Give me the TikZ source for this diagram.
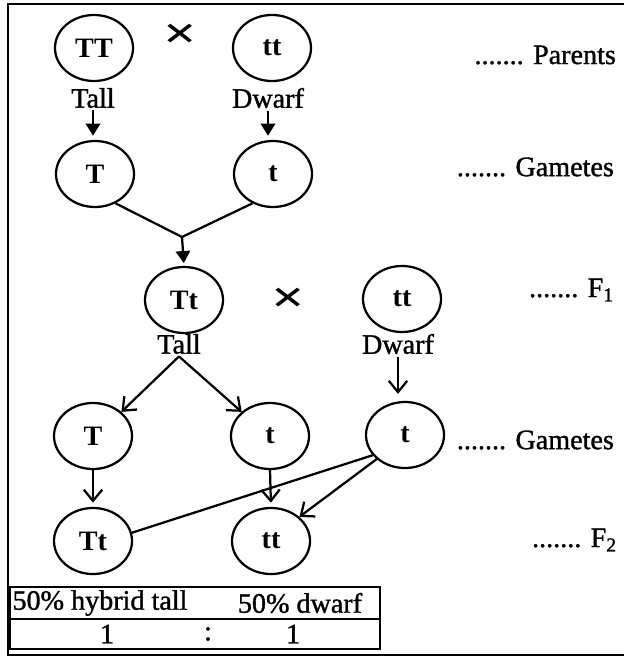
\documentclass[tikz,border=0pt]{standalone}
\usepackage{fontspec}
\setmainfont{Liberation Serif}
\newfontfamily\inkfont{Liberation Serif}[FakeBold=1.2]
\usetikzlibrary{arrows.meta, shapes.geometric}
\tikzset{
  every picture/.style={line width=1.6pt},
  gene/.style={draw, ellipse, minimum width=1.95cm, minimum height=1.65cm, inner sep=0pt, font=\fontsize{20}{24}\selectfont\bfseries},
  trait/.style={font=\fontsize{20}{24}\selectfont\inkfont, inner sep=1pt},
  stage/.style={font=\fontsize{20}{24}\selectfont\inkfont, anchor=east, inner sep=0pt},
  cross/.style={font=\fontsize{20}{24}\selectfont\bfseries},
  cell/.style={font=\fontsize{20}{24}\selectfont\inkfont, inner sep=0pt},
  solid tip/.style={-{Triangle[length=3mm, width=3.6mm]}},
  barb tip/.style={-{Straight Barb[length=2.8mm, width=4.6mm]}},
}

\begin{document}
\begin{tikzpicture}[x=0.025cm, y=-0.025cm]
  \useasboundingbox (0,0) rectangle (624,657);
  % frame, runs off on the right
  \draw[line width=1.8pt] (640,4) -- (8,4) -- (8,655) -- (640,655);

  % parents
  \node[gene] (TT) at (94,48) {TT};
  \node[cross] (x1) at (180,36) {\scalebox{2.1}[1.6]{×}};
  \node[gene] (tt) at (272,48) {tt};
  \node[trait] (tall1) at (93,98) {Tall};
  \node[trait] (dwarf1) at (268,98) {Dwarf};
  % their gametes
  \node[gene] (T1) at (95,174) {T};
  \node[gene] (t1) at (273,174) {t};
  \coordinate (join) at (182,237);
  % F1 and the dwarf parent
  \node[gene] (Tt1) at (184,300) {Tt};
  \node[cross] (x2) at (288,300) {\scalebox{2.1}[1.6]{×}};
  \node[gene] (tt1) at (402,299) {tt};
  \node[trait] (tall2) at (179,344) {Tall};
  \node[trait] (dwarf2) at (398,344) {Dwarf};
  % gametes of the back cross
  \node[gene] (T2) at (93,436) {T};
  \node[gene] (t2) at (270,436) {t};
  \node[gene] (t3) at (405,435) {t};
  % F2
  \node[gene] (Tt2) at (93,541) {Tt};
  \node[gene] (tt2) at (271,541) {tt};

  % generation names
  \node[stage] (par) at (617,55) {....... Parents};
  \node[stage] (gam1) at (615,167) {....... Gametes};
  \node[stage] (f1) at (615,290) {....... F\textsubscript{1}};
  \node[stage] (gam2) at (615,440) {....... Gametes};
  \node[stage] (f2) at (618,540) {....... F\textsubscript{2}};

  % arrows
  \draw[solid tip, shorten >=3pt] (tall1.south) -- (tall1.south |- T1.north);
  \draw[solid tip, shorten >=3pt] (dwarf1.south) -- (dwarf1.south |- t1.north);
  \draw (T1.-55) -- (join) -- (t1.-125);
  \draw[solid tip, shorten >=2pt] (join) -- (Tt1.north);
  \draw[barb tip] (tall2.south) -- (T2.north east);
  \draw[barb tip] (tall2.south) -- (t2.north west);
  \draw[barb tip, shorten >=5pt] (dwarf2.south) -- (dwarf2.south |- t3.north);
  \draw[barb tip, shorten >=3pt] (T2.south) -- (Tt2.north);
  \draw[barb tip, shorten >=3pt] (t2.south) -- (tt2.north);
  \draw[barb tip] (t3.south west) -- (tt2.north east);
  \draw (t3.212) -- (Tt2.12);

  % ratio table
  \draw[line width=1.1pt] (10,587) rectangle (380,649);
  \draw[line width=1.1pt] (10,619) -- (380,619);
  \node[cell] (hyb) at (100,603) {50\% hybrid tall};
  \node[cell] (dwf) at (300,603) {50\% dwarf};
  \node[cell] (r1) at (107,634) {1};
  \node[cell] (rc) at (208,634) {:};
  \node[cell] (r2) at (293,634) {1};
\end{tikzpicture}
\end{document}
